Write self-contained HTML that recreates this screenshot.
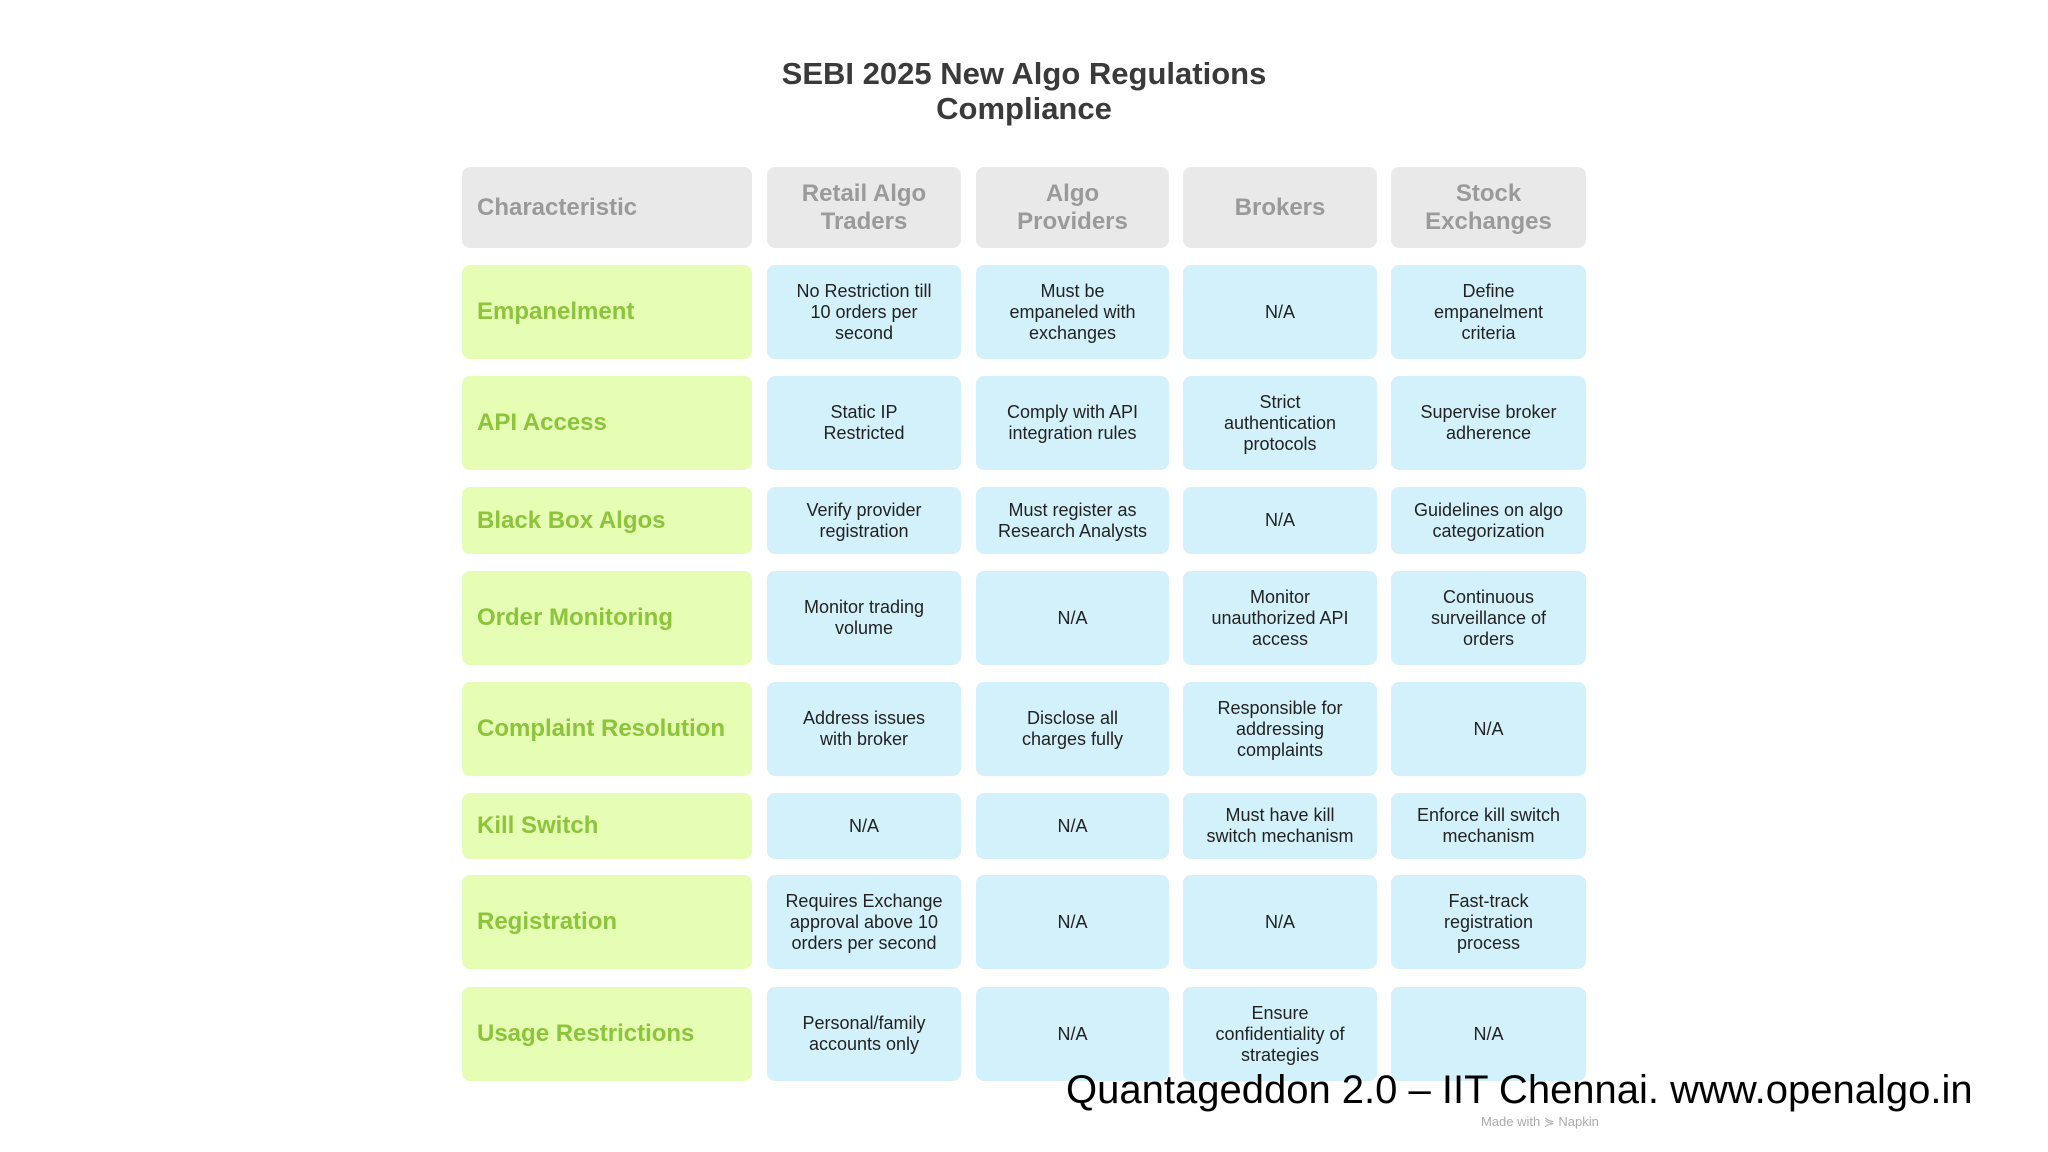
<!DOCTYPE html>
<html><head><meta charset="utf-8"><style>
body{margin:0;width:2048px;height:1152px;background:#fff;position:relative;overflow:hidden;font-family:"Liberation Sans",sans-serif}
.t{position:absolute;left:0;width:2048px;text-align:center;font-weight:bold;font-size:31px;color:#3a3a3a;line-height:35px;top:56px}
.c{position:absolute;border-radius:8px;display:flex;align-items:center;justify-content:center;text-align:center;box-sizing:border-box;padding:0 8px}
.h{background:#e9e9e9;color:#9a9a9a;font-weight:bold;font-size:24px;line-height:28px}
.l{background:#e6fdb4;color:#8cc43c;font-weight:bold;font-size:24px;justify-content:flex-start;padding-left:15px}
.h.first{justify-content:flex-start;padding-left:15px}
.b{background:#d3f1fb;color:#222;font-size:18px;line-height:21px}
.f{position:absolute;left:1066px;top:1068px;font-size:40px;color:#000;white-space:nowrap}
.n{position:absolute;left:1481px;top:1114px;font-size:13px;color:#aaa}
</style></head><body>
<div class="t">SEBI 2025 New Algo Regulations<br>Compliance</div>
<div id="tbl"></div>
<div class="f">Quantageddon 2.0 – IIT Chennai. www.openalgo.in</div>
<div class="n">Made with ⋟ Napkin</div>
<script>
const headers=["Characteristic","Retail Algo<br>Traders","Algo<br>Providers","Brokers","Stock<br>Exchanges"];
const labels=["Empanelment","API Access","Black Box Algos","Order Monitoring","Complaint Resolution","Kill Switch","Registration","Usage Restrictions"];
const cells=[
["No Restriction till<br>10 orders per<br>second","Must be<br>empaneled with<br>exchanges","N/A","Define<br>empanelment<br>criteria"],
["Static IP<br>Restricted","Comply with API<br>integration rules","Strict<br>authentication<br>protocols","Supervise broker<br>adherence"],
["Verify provider<br>registration","Must register as<br>Research Analysts","N/A","Guidelines on algo<br>categorization"],
["Monitor trading<br>volume","N/A","Monitor<br>unauthorized API<br>access","Continuous<br>surveillance of<br>orders"],
["Address issues<br>with broker","Disclose all<br>charges fully","Responsible for<br>addressing<br>complaints","N/A"],
["N/A","N/A","Must have kill<br>switch mechanism","Enforce kill switch<br>mechanism"],
["Requires Exchange<br>approval above 10<br>orders per second","N/A","N/A","Fast-track<br>registration<br>process"],
["Personal/family<br>accounts only","N/A","Ensure<br>confidentiality of<br>strategies","N/A"]];
const colX=[[462,752],[767,961],[976,1169],[1183,1377],[1391,1586]];
const rowY=[[167,248],[265,359],[376,470],[487,554],[571,665],[682,776],[793,859],[875,969],[987,1081]];
const tbl=document.getElementById('tbl');
function mk(cls,html,c,r,name){const d=document.createElement('div');d.className='c '+cls;d.innerHTML=html;
d.style.left=colX[c][0]+'px';d.style.width=(colX[c][1]-colX[c][0])+'px';d.style.top=rowY[r][0]+'px';d.style.height=(rowY[r][1]-rowY[r][0])+'px';


tbl.appendChild(d);}
headers.forEach((h,i)=>mk('h'+(i==0?' first':''),h,i,0,'header-cell'));
labels.forEach((l,r)=>{mk('l',l,0,r+1,'row-label');cells[r].forEach((v,c)=>mk('b',v,c+1,r+1,'table-cell'));});
</script>
</body></html>
